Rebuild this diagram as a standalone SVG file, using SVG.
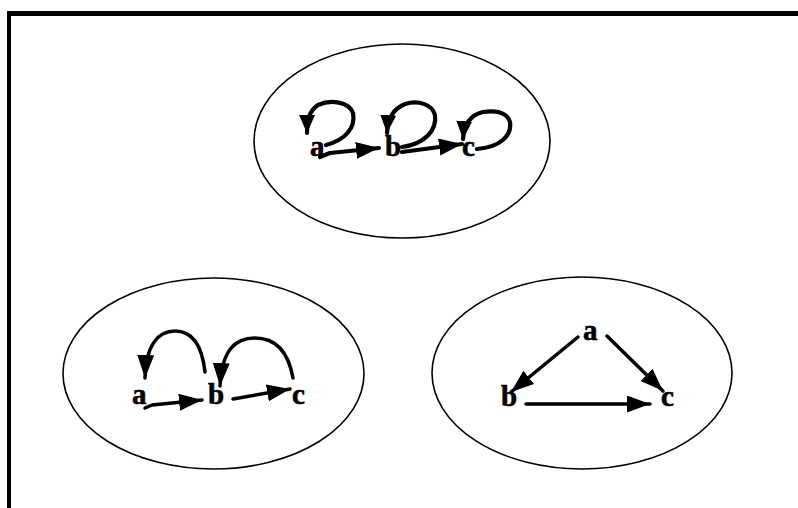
<svg xmlns="http://www.w3.org/2000/svg" width="798" height="508" viewBox="0 0 798 508">
<style>
.frame{stroke:#000;fill:none}
.ell{fill:#fff;stroke:#000;stroke-width:1.6}
.lbl{font-family:"Liberation Serif","Times New Roman",serif;font-weight:bold;font-size:29px;fill:#000;stroke:#000;stroke-width:0.6}
.edge{fill:none;stroke:#000;stroke-width:3.5;stroke-linecap:round;stroke-linejoin:round}
.hand{fill:none;stroke:#000;stroke-width:4.2;stroke-linecap:round;stroke-linejoin:round}
</style>
<defs>
<marker id="ah" markerUnits="userSpaceOnUse" markerWidth="24" markerHeight="18" refX="23" refY="8.5" orient="auto" viewBox="0 0 24 18">
<path d="M0,0 L23,8.5 L0,17 Z" fill="#000"/>
</marker>
<marker id="ahs" markerUnits="userSpaceOnUse" markerWidth="20" markerHeight="18" refX="18" refY="8" orient="auto" viewBox="0 0 20 18">
<path d="M0,0 L18,8 L0,16 Z" fill="#000"/>
</marker>
</defs>
<g id="frame">
<line class="frame" x1="7" y1="13.5" x2="798" y2="13.5" stroke-width="5"/>
<line class="frame" x1="9" y1="11" x2="9" y2="508" stroke-width="4"/>
</g>
<g id="top-group">
<ellipse class="ell" cx="402" cy="141" rx="148" ry="97"/>
</g>
<g id="left-group">
<ellipse class="ell" cx="213.5" cy="373.5" rx="150.5" ry="95.5"/>
</g>
<g id="right-group">
<ellipse class="ell" cx="582" cy="373" rx="150" ry="96"/>
</g>
<g id="connectors">
<path class="hand" d="M326,145 C345,140 356,128 353,113 C349,102 331,99 318,105 C309,111 307,120 307,133" marker-end="url(#ahs)"/>
<path class="hand" d="M402,147 C425,144 437,130 435,115 C432,104 418,100 405,104 C393,109 388,118 387,133" marker-end="url(#ahs)"/>
<path class="hand" d="M477,149 C500,147 512,136 510,122 C507,112 495,110 483,112 C470,115 464,125 463,139" marker-end="url(#ahs)"/>
<path class="hand" d="M320,157 L330,153 L379,148" marker-end="url(#ah)"/>
<path class="hand" d="M402,152 L462,144" marker-end="url(#ah)"/>
<path class="edge" d="M145,408 L152,405 L202,400" marker-end="url(#ah)"/>
<path class="edge" d="M233,399 L290,389" marker-end="url(#ah)"/>
<path class="edge" d="M205,372 C202,345 192,331 175,331 C158,331 146,345 145,378" marker-end="url(#ah)"/>
<path class="edge" d="M293,378 C288,350 275,338 255,338 C235,338 222,350 220,386" marker-end="url(#ah)"/>
<path class="edge" d="M578,337 L511,392" marker-end="url(#ah)"/>
<path class="edge" d="M607,336 L663,391" marker-end="url(#ah)"/>
<path class="edge" d="M526,404 L650,404" marker-end="url(#ah)"/>
</g>
<g id="node-top-a"><text class="lbl" x="310" y="156">a</text></g>
<g id="node-top-b"><text class="lbl" x="385" y="156">b</text></g>
<g id="node-top-c"><text class="lbl" x="462" y="156">c</text></g>
<g id="node-left-a"><text class="lbl" x="132" y="404">a</text></g>
<g id="node-left-b"><text class="lbl" x="208" y="404">b</text></g>
<g id="node-left-c"><text class="lbl" x="292" y="404">c</text></g>
<g id="node-right-a"><text class="lbl" x="583" y="340">a</text></g>
<g id="node-right-b"><text class="lbl" x="501" y="406">b</text></g>
<g id="node-right-c"><text class="lbl" x="661" y="406">c</text></g>
</svg>
